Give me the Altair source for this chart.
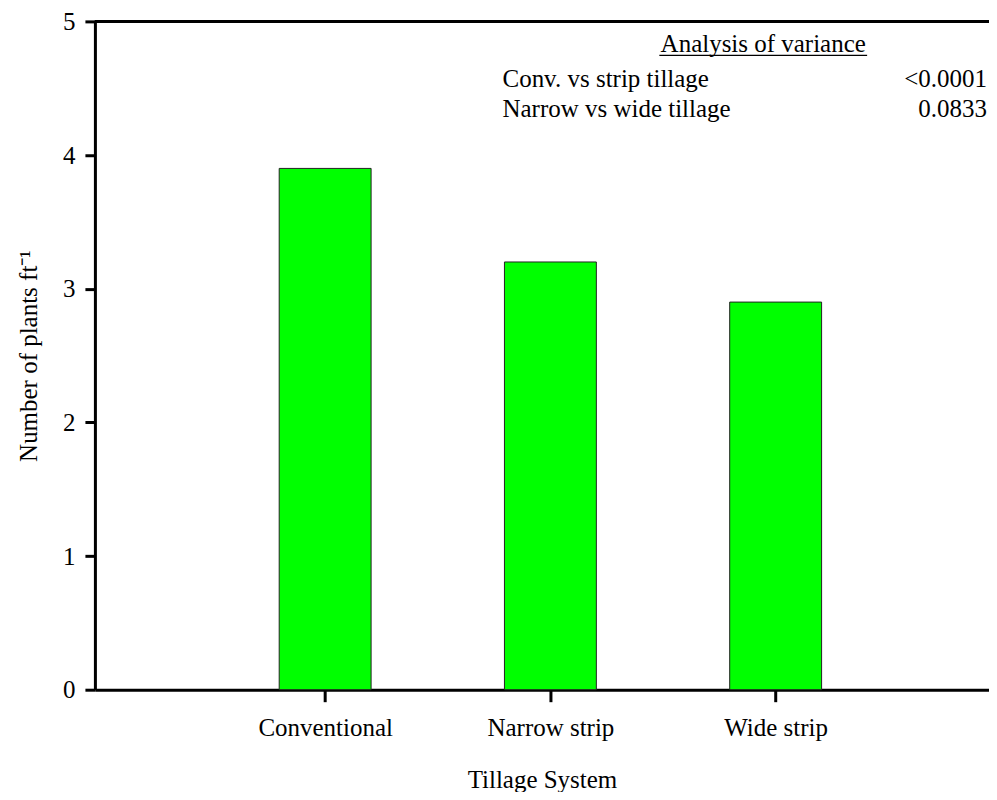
import altair as alt
import pandas as pd

categories = ["Conventional", "Narrow strip", "Wide strip"]
plants = [3.9, 3.2, 2.9]
positions = [1, 2, 3]

anova_title = "Analysis of variance"
anova_labels = ["Conv. vs strip tillage", "Narrow vs wide tillage"]
anova_pvalues = ["<0.0001", "0.0833"]

df = pd.DataFrame({"category": categories, "plants": plants, "pos": positions})

FONT = "Liberation Serif"
FS = 25
W, H = 895, 669

label_expr = " : ".join(
    f"datum.value == {p} ? '{c}'" for p, c in zip(positions, categories)
) + " : ''"

x_scale = alt.Scale(domain=[0, 3.925], nice=False, zero=False)
y_scale = alt.Scale(domain=[0, 5], nice=False)

bars = alt.Chart(df).mark_bar(size=92, color="#00ff00", stroke="#222222", strokeWidth=1).encode(
    x=alt.X("pos:Q", scale=x_scale,
            axis=alt.Axis(title="Tillage System", values=positions, labelExpr=label_expr,
                          grid=False, domainWidth=3, domainColor="black", tickColor="black",
                          tickWidth=3, tickSize=12, labelPadding=14, labelFont=FONT,
                          labelFontSize=FS, labelColor="black", titleFont=FONT,
                          titleFontSize=FS, titleFontWeight="normal", titleColor="black",
                          titlePadding=27)),
    y=alt.Y("plants:Q", scale=y_scale,
            axis=alt.Axis(title="Number of plants ft⁻¹", values=[0, 1, 2, 3, 4, 5],
                          grid=False, domainWidth=3, domainColor="black", tickColor="black",
                          tickWidth=3, tickSize=10, labelPadding=10, labelFont=FONT,
                          labelFontSize=FS, labelColor="black", titleFont=FONT,
                          titleFontSize=FS, titleFontWeight="normal", titleColor="black",
                          titlePadding=21)),
)

top_line = alt.Chart(df).mark_rule(color="black", strokeWidth=3).encode(
    x=alt.value(0), x2=alt.value(W), y=alt.value(0)
)

heading = alt.Chart(pd.DataFrame({"t": [anova_title]})).mark_text(
    font=FONT, fontSize=FS, align="center", baseline="alphabetic", color="black"
).encode(x=alt.value(669), y=alt.value(31), text="t:N")

underline = alt.Chart(pd.DataFrame({"t": [0]})).mark_rule(color="black", strokeWidth=1.3).encode(
    x=alt.value(565), x2=alt.value(773), y=alt.value(34)
)

rows_y = [66, 96]
anova_left = alt.layer(*[
    alt.Chart(pd.DataFrame({"t": [lab]})).mark_text(
        font=FONT, fontSize=FS, align="left", baseline="alphabetic", color="black"
    ).encode(x=alt.value(408), y=alt.value(yy), text="t:N")
    for lab, yy in zip(anova_labels, rows_y)
])
anova_right = alt.layer(*[
    alt.Chart(pd.DataFrame({"t": [pv]})).mark_text(
        font=FONT, fontSize=FS, align="right", baseline="alphabetic", color="black"
    ).encode(x=alt.value(893), y=alt.value(yy), text="t:N")
    for pv, yy in zip(anova_pvalues, rows_y)
])

chart = alt.layer(bars, top_line, heading, underline, anova_left, anova_right).properties(
    width=W, height=H,
    autosize=alt.AutoSizeParams(type="none"),
    padding={"left": 87, "top": 13, "right": 0, "bottom": 102},
).configure_view(stroke=None).configure(background="white", font=FONT).configure_text(font=FONT)

chart.save("out.html", embed_options={"renderer": "svg", "actions": False})
